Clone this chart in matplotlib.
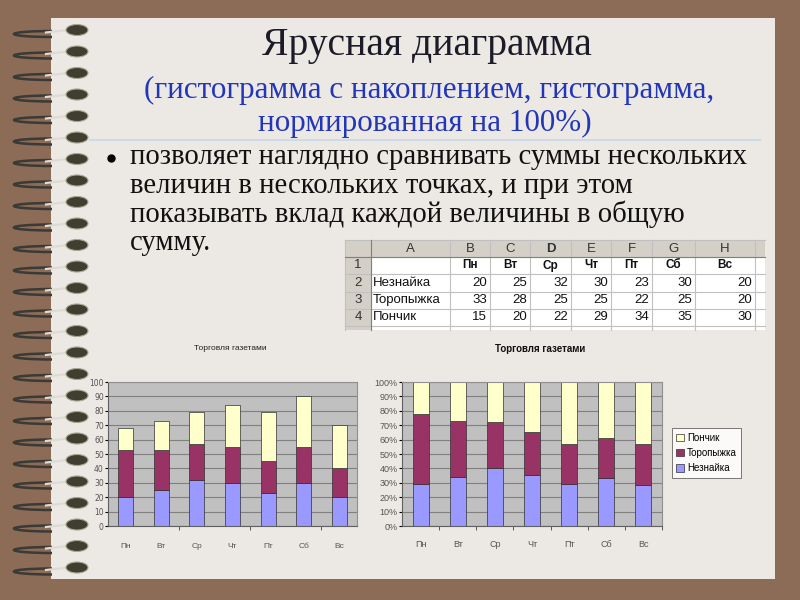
import matplotlib

matplotlib.use("Agg")
import matplotlib.pyplot as plt
import numpy as np
from matplotlib.patches import Rectangle, Ellipse, Arc

# ---- data ----
days = ["Пн", "Вт", "Ср", "Чт", "Пт", "Сб", "Вс"]
names = ["Незнайка", "Торопыжка", "Пончик"]
neznayka = [20, 25, 32, 30, 23, 30, 20]
toropyzhka = [33, 28, 25, 25, 22, 25, 20]
ponchik = [15, 20, 22, 29, 34, 35, 30]
y_ticks = [0, 10, 20, 30, 40, 50, 60, 70, 80, 90, 100]
pct_ticks = [0, 10, 20, 30, 40, 50, 60, 70, 80, 90, 100]
col_letters = ["A", "B", "C", "D", "E", "F", "G", "H"]

BROWN = "#8c6b57"
PAGE = "#ece8e4"
COLORS = ["#9999ff", "#993366", "#ffffcc"]
PLOT_BG = "#c0c0c0"
SERIF = "Liberation Serif"
SANS = "Liberation Sans"

fig = plt.figure(figsize=(8, 6), dpi=100)
fig.patch.set_facecolor(BROWN)

# overlay axes in pixel coordinates
bg = fig.add_axes([0, 0, 1, 1])
bg.set_xlim(0, 800)
bg.set_ylim(600, 0)
bg.axis("off")

bg.add_patch(Rectangle((51, 18), 724, 561, facecolor=PAGE, edgecolor="none", zorder=0))

# spiral binding
for k in range(26):
    y = 30 + k * 21.5
    bg.add_patch(Arc((52, y + 4), 76, 6, theta1=90, theta2=270, color="#3a3a36", lw=1.8, zorder=2))
    bg.plot([46, 68], [y + 2.5, y], color="#dcdcd4", lw=1.6, zorder=3)
    bg.add_patch(Ellipse((77, y), 22, 11, facecolor="#403e30", edgecolor="#a8a890", lw=0.8, zorder=4))

# title block
bg.text(427, 46, "Ярусная диаграмма", ha="center", va="center", fontsize=28.5,
        family=SERIF, color="#1c1c28")
bg.text(429, 90, "(гистограмма с накоплением, гистограмма,", ha="center", va="center",
        fontsize=22.4, family=SERIF, color="#2236b8")
bg.text(425, 123, "нормированная на 100%)", ha="center", va="center",
        fontsize=22.4, family=SERIF, color="#2236b8")
bg.plot([90, 760], [140, 140], color="#cddbe8", lw=1.5)

# bullet text
bg.plot([111], [158], marker="o", markersize=5, color="black")
lines = ["позволяет наглядно сравнивать суммы нескольких",
         "величин в нескольких точках, и при этом",
         "показывать вклад каждой величины в общую",
         "сумму."]
for i, t in enumerate(lines):
    bg.text(130, 157 + i * 28.7, t, ha="left", va="center", fontsize=20.7,
            family=SERIF, color="#111111")

# spreadsheet table
col_x = [345, 371, 450, 490, 530, 571, 611, 652, 695, 755, 765]
row_y = [239.5, 257, 274, 291.5, 308.5, 326, 330]
HDR = "#d4d0c8"
GRID = "#c0c0c0"
bg.add_patch(Rectangle((col_x[0], row_y[0]), col_x[-1] - col_x[0], row_y[-1] - row_y[0],
                       facecolor="white", edgecolor="none", zorder=1))
bg.add_patch(Rectangle((col_x[0], row_y[0]), col_x[-1] - col_x[0], row_y[1] - row_y[0],
                       facecolor=HDR, edgecolor="none", zorder=1))
bg.add_patch(Rectangle((col_x[0], row_y[0]), col_x[1] - col_x[0], row_y[-1] - row_y[0],
                       facecolor=HDR, edgecolor="none", zorder=1))
for x in col_x[:-1]:
    bg.plot([x, x], [row_y[0], row_y[-1]], color=GRID, lw=0.8, zorder=2)
for y in row_y[:-1]:
    bg.plot([col_x[0], col_x[-1]], [y, y], color=GRID, lw=0.8, zorder=2)
bg.plot([col_x[0], col_x[-1]], [row_y[1], row_y[1]], color="#808080", lw=0.8, zorder=2)
bg.plot([col_x[1], col_x[1]], [row_y[0], row_y[-1]], color="#808080", lw=0.8, zorder=2)
for j, letter in enumerate(col_letters):
    cx = (col_x[j + 1] + col_x[j + 2]) / 2
    bg.text(cx, (row_y[0] + row_y[1]) / 2 + 0.5, letter, ha="center", va="center",
            fontsize=9.5, family=SANS, color="#333333",
            fontweight="bold" if letter == "D" else "normal", zorder=3)
for i in range(4):
    bg.text((col_x[0] + col_x[1]) / 2, (row_y[i + 1] + row_y[i + 2]) / 2, str(i + 1),
            ha="center", va="center", fontsize=9.5, family=SANS, color="#333333", zorder=3)
for j, d in enumerate(days):
    bg.text((col_x[j + 2] + col_x[j + 3]) / 2, (row_y[1] + row_y[2]) / 2, d, ha="center",
            va="center", fontsize=8.5, family=SANS, fontweight="bold", color="#111111", zorder=3)
for i, (name, vals) in enumerate(zip(names, [neznayka, toropyzhka, ponchik])):
    ry = (row_y[i + 2] + row_y[i + 3]) / 2
    bg.text(col_x[1] + 2, ry, name, ha="left", va="center", fontsize=9.5, family=SANS,
            color="#111111", zorder=3)
    for j, v in enumerate(vals):
        bg.text(col_x[j + 3] - 3, ry, str(v), ha="right", va="center", fontsize=9.5,
                family=SANS, color="#111111", zorder=3)

series = [neznayka, toropyzhka, ponchik]
x = np.arange(len(days))


def style_axes(ax, tick_step):
    ax.set_facecolor(PLOT_BG)
    ax.set_xlim(-0.5, len(days) - 0.5)
    ax.yaxis.grid(True, color="#808080", lw=0.8)
    ax.set_axisbelow(True)
    for s in ["top", "right"]:
        ax.spines[s].set_color("#909090")
    for s in ["left", "bottom"]:
        ax.spines[s].set_color("#606060")
    ax.set_xticks(np.arange(tick_step, len(days) + 1, tick_step) - 0.5, minor=True)
    ax.tick_params(axis="x", which="minor", length=3, color="#404040")
    ax.tick_params(axis="x", which="major", length=0, pad=10, labelsize=6, labelcolor="#555555")
    ax.tick_params(axis="y", length=2, pad=1, labelsize=5.5, labelcolor="#555555")


# left: stacked
ax1 = fig.add_axes([108 / 800, 74 / 600, 249 / 800, 144 / 600])
bottom = np.zeros(len(days))
for vals, c in zip(series, COLORS):
    ax1.bar(x, vals, 0.42, bottom=bottom, color=c, edgecolor="#303030", lw=0.5)
    bottom += np.array(vals)
style_axes(ax1, 2)
ax1.set_ylim(0, 100)
ax1.set_yticks(y_ticks)
ax1.set_xticks(x, days, family=SANS)
ax1.tick_params(axis="x", which="major", pad=12)
fig.text(230 / 800, 1 - 349 / 600, "Торговля газетами", ha="center", va="center",
         fontsize=6, family=SANS, color="#222222")

# right: 100% stacked
totals = np.sum(series, axis=0)
ax2 = fig.add_axes([402 / 800, 74 / 600, 260 / 800, 144 / 600])
bottom = np.zeros(len(days))
handles = []
for vals, c, n in zip(series, COLORS, names):
    share = np.array(vals) / totals * 100
    h = ax2.bar(x, share, 0.43, bottom=bottom, color=c, edgecolor="#303030", lw=0.5, label=n)
    handles.append(h)
    bottom += share
style_axes(ax2, 1)
ax2.set_ylim(0, 100)
ax2.set_yticks(pct_ticks, [f"{t}%" for t in pct_ticks], family=SANS)
ax2.set_xticks(x, days, family=SANS)
ax2.tick_params(axis="y", labelsize=6.5)
ax2.tick_params(axis="x", labelsize=6.5)
fig.text(540 / 800, 1 - 349 / 600, "Торговля газетами", ha="center", va="center",
         fontsize=7, family=SANS, fontweight="bold", color="#111111")
leg = fig.legend(handles[::-1], names[::-1], loc="center", bbox_to_anchor=(706.5 / 800, 1 - 453 / 600),
                 frameon=True, fancybox=False, edgecolor="#404040",
                 handlelength=0.8, handleheight=0.8, borderpad=0.45, labelspacing=0.55,
                 handletextpad=0.3, prop={"family": SANS, "size": 7})
leg.get_frame().set_linewidth(0.6)

fig.savefig("out.png", dpi=100, facecolor=BROWN)
